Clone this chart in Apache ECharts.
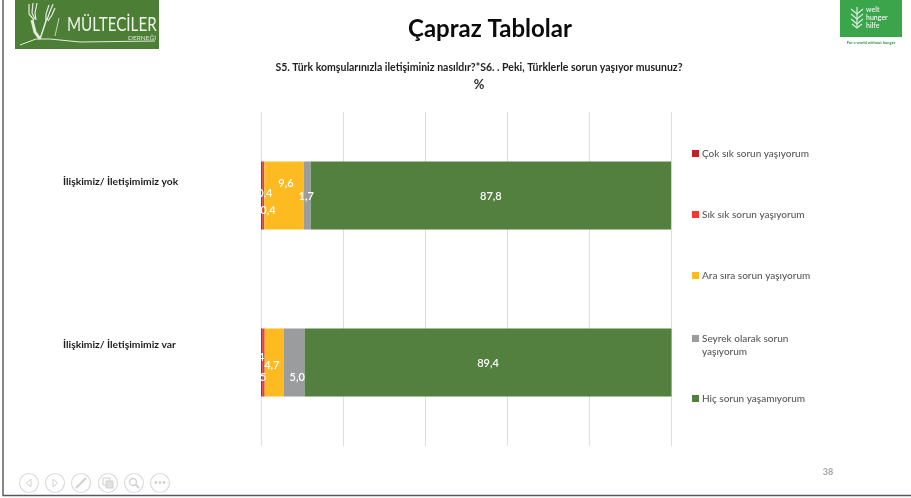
<!DOCTYPE html>
<html><head><meta charset="utf-8">
<style>html,body{margin:0;padding:0;background:#fff}#c{width:911px;height:498px;filter:blur(0.35px)}</style>
<script src="https://cdn.jsdelivr.net/npm/echarts@6/dist/echarts.min.js"></script>
</head><body><div id="c"></div>
<script>
const categories = ['İlişkimiz/ İletişimimiz yok', 'İlişkimiz/ İletişimimiz var'];
const seriesNames = ['Çok sık sorun yaşıyorum', 'Sık sık sorun yaşıyorum', 'Ara sıra sorun yaşıyorum', 'Seyrek olarak sorun yaşıyorum', 'Hiç sorun yaşamıyorum'];
const cokSik = [0.4, 0.4];
const sikSik = [0.4, 0.5];
const araSira = [9.6, 4.7];
const seyrek = [1.7, 5.0];
const hic = [87.8, 89.4];
const seriesValues = [cokSik, sikSik, araSira, seyrek, hic];
const colors = ['#c32127', '#ee3a32', '#febb21', '#9a9c9e', '#53803f'];
const xTicks = [0, 20, 40, 60, 80, 100];
// manual label shifts of the source chart [x, y] per series, per row
const labelShift = [
  [[3, -2], [-5, -5]],
  [[4.5, 15], [-5, 15]],
  [[2, -12], [-2.5, 3]],
  [[-1, 1], [3, 15]],
  [[0, 1], [0, 1]]
];
const legendTops = [147, 208, 269, 319, 392];

const chart = echarts.init(document.getElementById('c'), null, {renderer: 'canvas'});
const FONT = 'Lato';
const ring = (cx) => ({type: 'circle', shape: {cx, cy: 483, r: 9.5}, style: {fill: '#fff', stroke: '#dcdcdc', lineWidth: 1.2}, silent: true});
const line = (pts, stroke, lw) => ({type: 'polyline', shape: {points: pts}, style: {fill: 'none', stroke, lineWidth: lw}, silent: true});
const BIRD = '#e4ecdd';
const frame = [
  line([[3, 0], [3, 495.5], [911, 495.5]], '#55585c', 1.4),
  // Mülteciler logo
  {type: 'rect', shape: {x: 15, y: 0, width: 144, height: 49}, style: {fill: '#4c7f35'}, silent: true},
  line([[20, 45], [36, 39], [50, 39], [80, 42], [155, 41]], BIRD, 1),
  line([[32, 20], [35, 32], [40, 39]], BIRD, 3),
  line([[40, 39], [43, 30], [47, 18]], BIRD, 1.5),
  line([[29, 4], [29, 14], [34, 20]], BIRD, 1.2),
  line([[33, 3], [32, 13], [35, 19]], BIRD, 1.2),
  line([[37, 3], [35, 13], [36, 20]], BIRD, 1.2),
  line([[49, 5], [46, 14], [46, 20]], BIRD, 1.2),
  line([[53, 4], [49, 14], [47, 20]], BIRD, 1.2),
  line([[55, 8], [52, 15], [48, 21]], BIRD, 1.2),
  line([[59, 18], [55, 36]], BIRD, 0.8),
  {type: 'text', x: 67, scaleX: 0.76, originX: 0, style: {x: 0, y: 25, text: 'MÜLTECİLER', fill: '#eef3ea', font: '20px Lato', textVerticalAlign: 'middle', textAlign: 'left'}, silent: true},
  {type: 'text', style: {x: 156, y: 38, text: 'DERNEĞİ', fill: '#dfe8d8', font: '6.5px Lato', textVerticalAlign: 'middle', textAlign: 'right'}, silent: true},
  // Welt Hunger Hilfe logo
  {type: 'rect', shape: {x: 840, y: 0, width: 62, height: 37}, style: {fill: '#3aa54a'}, silent: true},
  line([[857, 7], [857, 28]], '#d8efdc', 1.2),
  line([[851, 9], [857, 14], [863, 9]], '#d8efdc', 1.2),
  line([[851, 14], [857, 19], [863, 14]], '#d8efdc', 1.2),
  line([[851, 19], [857, 24], [863, 19]], '#d8efdc', 1.2),
  line([[852, 24], [857, 28], [862, 24]], '#d8efdc', 1.2),
  {type: 'text', style: {x: 866, y: 9.5, text: 'welt', fill: '#eaf6ec', font: '600 7px Lato', textVerticalAlign: 'middle'}, silent: true},
  {type: 'text', style: {x: 866, y: 17.5, text: 'hunger', fill: '#eaf6ec', font: '600 7px Lato', textVerticalAlign: 'middle'}, silent: true},
  {type: 'text', style: {x: 866, y: 25.5, text: 'hilfe', fill: '#eaf6ec', font: '600 7px Lato', textVerticalAlign: 'middle'}, silent: true},
  {type: 'text', style: {x: 871, y: 43, text: 'For a world without hunger', fill: '#2f8f44', font: '700 4px Lato', textAlign: 'center', textVerticalAlign: 'middle'}, silent: true},
  // Page number
  {type: 'text', style: {x: 828, y: 472, text: '38', fill: '#a3a3a3', font: '700 9px Lato', textAlign: 'center', textVerticalAlign: 'middle'}, silent: true},
  // Slide-show toolbar
  ring(29), ring(55), ring(81), ring(108), ring(134), ring(160),
  line([[31, 479], [26.5, 483], [31, 487], [31, 479]], '#d0d0d0', 1),
  line([[53, 479], [57.5, 483], [53, 487], [53, 479]], '#d0d0d0', 1),
  line([[76, 488], [86, 478]], '#d0d0d0', 2),
  {type: 'rect', shape: {x: 103, y: 478, width: 7, height: 7}, style: {fill: '#fff', stroke: '#d0d0d0', lineWidth: 1}, silent: true},
  {type: 'rect', shape: {x: 106, y: 481, width: 7, height: 7}, style: {fill: '#e2e2e2', stroke: '#d0d0d0', lineWidth: 1}, silent: true},
  {type: 'circle', shape: {cx: 133, cy: 482, r: 3.5}, style: {fill: 'none', stroke: '#d0d0d0', lineWidth: 1.3}, silent: true},
  line([[135.5, 484.5], [139, 488]], '#d0d0d0', 1.8),
  {type: 'text', style: {x: 160, y: 483, text: '•••', fill: '#d0d0d0', font: '7px Lato', textAlign: 'center', textVerticalAlign: 'middle'}, silent: true}
];

chart.setOption({
  animation: false,
  backgroundColor: '#ffffff',
  color: colors,
  textStyle: {fontFamily: FONT},
  title: [
    {text: 'Çapraz Tablolar', left: 490, top: 17, padding: 0, textAlign: 'center', textStyle: {fontFamily: FONT, fontSize: 24, fontWeight: 700, color: '#0b0b0b'}},
    {text: 'S5. Türk komşularınızla iletişiminiz nasıldır?*S6. . Peki, Türklerle sorun yaşıyor musunuz?', left: 479, top: 62, padding: 0, textAlign: 'center', textStyle: {fontFamily: FONT, fontSize: 10.5, fontWeight: 700, color: '#1f1f1f'}},
    {text: '%', left: 479, top: 78, padding: 0, textAlign: 'center', textStyle: {fontFamily: FONT, fontSize: 13, fontWeight: 700, color: '#333'}}
  ],
  legend: seriesNames.map((name, i) => ({
    data: [name], left: 692, top: legendTops[i], orient: 'vertical', padding: 0,
    itemWidth: 7, itemHeight: 7, itemGap: 0, icon: 'rect', selectedMode: false,
    formatter: (n) => n === 'Seyrek olarak sorun yaşıyorum' ? '\nSeyrek olarak sorun\nyaşıyorum' : n,
    textStyle: {fontFamily: FONT, fontSize: 10, fontWeight: 500, color: '#595959', lineHeight: 13, padding: [0, 0, 0, -2]}
  })),
  grid: {left: 261, right: 239.5, top: 112, bottom: 52, containLabel: false, outerBoundsMode: 'none'},
  xAxis: {
    type: 'value', min: xTicks[0], max: xTicks[xTicks.length - 1], interval: 20,
    axisLabel: {show: false}, axisLine: {show: false}, axisTick: {show: false},
    splitLine: {show: true, lineStyle: {color: '#dedede', width: 1}}
  },
  yAxis: {
    type: 'category', inverse: true,
    data: categories,
    axisLine: {show: false}, axisTick: {show: false},
    axisLabel: {
      align: 'left', margin: 198,
      formatter: (v, i) => `{r${i}|${v}}`,
      rich: {
        r0: {fontFamily: FONT, fontSize: 10.3, fontWeight: 700, color: '#1c1c1c', padding: [0, 0, 28, 0]},
        r1: {fontFamily: FONT, fontSize: 10.3, fontWeight: 700, color: '#1c1c1c', padding: [0, 0, 35, 0]}
      }
    }
  },
  series: seriesNames.map((name, i) => ({
    name, type: 'bar', stack: 'total', barWidth: 68,
    itemStyle: {color: colors[i]},
    data: seriesValues[i].map((v, r) => ({
      value: v,
      label: {
        show: true, position: 'inside', offset: labelShift[i][r], color: '#fff',
        fontFamily: FONT, fontSize: 11, fontWeight: 600,
        formatter: (p) => p.value.toFixed(1).replace('.', ',')
      }
    }))
  })),
  graphic: frame
});
</script></body></html>
